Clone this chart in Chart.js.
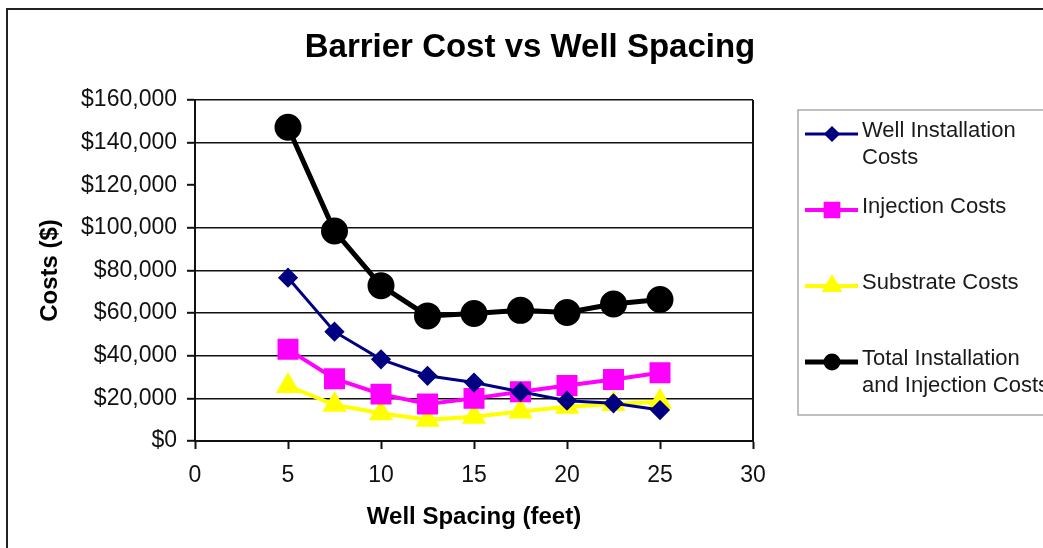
<!DOCTYPE html>
<html lang="en">
<head>
    <meta charset="UTF-8">
    <title>Barrier Cost vs Well Spacing</title>
    <script src="https://cdn.jsdelivr.net/npm/chart.js"></script>
    <style>
        body {
            margin: 0;
            padding: 0;
            background: #fff;
        }
        #wrap {
            width: 1043px;
            height: 548px;
        }
    </style>
</head>
<body>
    <div id="wrap">
        <canvas id="cost-chart" width="1043" height="548"></canvas>
    </div>

    <script>
        // values
        const spacing = [5, 7.5, 10, 12.5, 15, 17.5, 20, 22.5, 25];
        const wellCosts = [76600, 51300, 38300, 30600, 27400, 23100, 18900, 17700, 14500];
        const injectionCosts = [43000, 29200, 22000, 17400, 20000, 23100, 26000, 28900, 32000];
        const substrateCosts = [25800, 17000, 13000, 10000, 11400, 13800, 16100, 17400, 18400];
        const totalCosts = [147200, 98500, 72900, 58700, 59800, 61300, 60300, 64300, 66400];
        const xTicks = [0, 5, 10, 15, 20, 25, 30];
        const yTicks = [0, 20000, 40000, 60000, 80000, 100000, 120000, 140000, 160000];
        const legendLines = [
            ["Well Installation", "Costs"],
            ["Injection Costs"],
            ["Substrate Costs"],
            ["Total Installation", "and Injection Costs"]
        ];
        const legendRows = [131, 207, 283, 359];

        const font = "'Liberation Sans', Arial, sans-serif";
        const toPoints = vals => vals.map((v, i) => ({ x: spacing[i], y: v }));

        // title, outer frame, right plot border and the boxed legend
        const decor = {
            id: "decor",
            beforeDraw(chart) {
                const c = chart.ctx;
                c.save();
                c.strokeStyle = "#222";
                c.lineWidth = 2;
                c.strokeRect(7, 9, 1100, 600);
                c.restore();
            },
            afterDraw(chart) {
                const c = chart.ctx;
                const a = chart.chartArea;
                c.save();
                c.strokeStyle = "#111";
                c.lineWidth = 2;
                c.beginPath();
                c.moveTo(a.right, a.top);
                c.lineTo(a.right, a.bottom);
                c.stroke();

                c.fillStyle = "#000";
                c.font = "bold 33px " + font;
                c.textAlign = "center";
                c.textBaseline = "middle";
                c.fillText("Barrier Cost vs Well Spacing", 530, 48);

                // legend
                const bx = a.right + 45;
                c.strokeStyle = "#aaa";
                c.lineWidth = 1.5;
                c.strokeRect(bx, 110, 400, 305);
                c.font = "22px " + font;
                c.textAlign = "left";
                chart.data.datasets.forEach((ds, i) => {
                    const ty = legendRows[i];
                    const sy = ty + 3;
                    c.strokeStyle = ds.borderColor;
                    c.lineWidth = ds.legendLine;
                    c.beginPath();
                    c.moveTo(bx + 7, sy);
                    c.lineTo(bx + 60, sy);
                    c.stroke();
                    c.fillStyle = ds.backgroundColor;
                    c.strokeStyle = ds.borderColor;
                    Chart.helpers.drawPoint(c, {
                        pointStyle: ds.pointStyle,
                        radius: ds.legendRadius,
                        rotation: 0,
                        borderWidth: 1
                    }, bx + 34, sy);
                    c.fillStyle = "#1a1a1a";
                    legendLines[i].forEach((line, j) => {
                        c.fillText(line, bx + 64, ty + j * 27);
                    });
                });
                c.restore();
            }
        };

        new Chart(document.getElementById("cost-chart"), {
            type: "line",
            data: {
                datasets: [
                    {
                        label: "Well Installation Costs",
                        data: toPoints(wellCosts),
                        borderColor: "#000080",
                        backgroundColor: "#000080",
                        borderWidth: 3,
                        pointStyle: "rectRot",
                        pointRadius: 8,
                        legendLine: 3,
                        legendRadius: 6
                    },
                    {
                        label: "Injection Costs",
                        data: toPoints(injectionCosts),
                        borderColor: "#ff00ff",
                        backgroundColor: "#ff00ff",
                        borderWidth: 4,
                        pointStyle: "rect",
                        pointRadius: 12,
                        legendLine: 4,
                        legendRadius: 9
                    },
                    {
                        label: "Substrate Costs",
                        data: toPoints(substrateCosts),
                        borderColor: "#ffff00",
                        backgroundColor: "#ffff00",
                        borderWidth: 4,
                        pointStyle: "triangle",
                        pointRadius: 10,
                        legendLine: 4,
                        legendRadius: 8
                    },
                    {
                        label: "Total Installation and Injection Costs",
                        data: toPoints(totalCosts),
                        borderColor: "#000",
                        backgroundColor: "#000",
                        borderWidth: 5,
                        pointStyle: "circle",
                        pointRadius: 11,
                        legendLine: 5,
                        legendRadius: 6
                    }
                ]
            },
            options: {
                responsive: false,
                animation: false,
                layout: {
                    padding: { top: 100, right: 290, left: 0, bottom: 0 }
                },
                plugins: {
                    legend: { display: false },
                    title: { display: false },
                    tooltip: { enabled: false }
                },
                elements: {
                    line: { tension: 0 },
                    point: { borderWidth: 1, hoverRadius: 11 }
                },
                scales: {
                    x: {
                        type: "linear",
                        min: 0,
                        max: 30,
                        afterBuildTicks: s => { s.ticks = xTicks.map(v => ({ value: v })); },
                        afterFit: s => { s.height = 107; },
                        ticks: {
                            color: "#111",
                            padding: 13,
                            maxRotation: 0,
                            font: { family: font, size: 23 }
                        },
                        grid: {
                            drawOnChartArea: false,
                            drawTicks: true,
                            tickLength: 8,
                            tickWidth: 2,
                            tickColor: "#111"
                        },
                        border: { color: "#111", width: 2 },
                        title: {
                            display: true,
                            text: "Well Spacing (feet)",
                            color: "#000",
                            font: { family: font, size: 24, weight: "bold" },
                            padding: { top: 0, bottom: 16 }
                        }
                    },
                    y: {
                        min: 0,
                        max: 160000,
                        afterBuildTicks: s => { s.ticks = yTicks.map(v => ({ value: v })); },
                        afterFit: s => { s.width = 195; },
                        ticks: {
                            color: "#111",
                            padding: 10,
                            font: { family: font, size: 23 },
                            callback: v => "$" + v.toLocaleString("en-US")
                        },
                        grid: {
                            // the $120,000 gridline is absent in the original
                            color: ctx => ctx.tick && ctx.tick.value === 120000 ? "rgba(0,0,0,0)" : "#111",
                            lineWidth: 1.6,
                            tickLength: 8,
                            tickWidth: 2,
                            tickColor: "#111"
                        },
                        border: { color: "#111", width: 2 },
                        title: {
                            display: true,
                            text: "Costs ($)",
                            color: "#000",
                            font: { family: font, size: 24, weight: "bold" },
                            padding: { top: 36, bottom: 0 }
                        }
                    }
                }
            },
            plugins: [decor]
        });
    </script>
</body>
</html>
